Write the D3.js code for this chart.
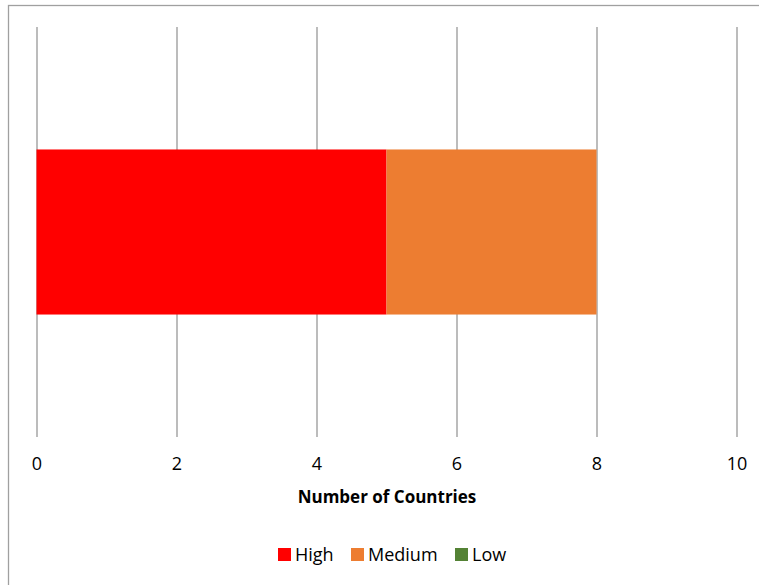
<!DOCTYPE html>
<html><head><meta charset="utf-8">
<script src="https://cdn.jsdelivr.net/npm/d3@7"></script>
<style>body{margin:0;background:#fff}svg{display:block}text{font-family:"Open Sans",sans-serif}</style>
</head><body>
<svg id="c" width="759" height="585"></svg>
<script>
const categories = ["Countries"];
const seriesNames = ["High","Medium","Low"];
const seriesColors = ["#ff0000","#ed7d31","#548235"];
const high = [5];
const medium = [3];
const low = [0];
const tickValues = [0,2,4,6,8,10];
const axisTitle = "Number of Countries";
const FONT = "'Open Sans',sans-serif";

const svg = d3.select("#c");
svg.append("rect").attr("x",8.5).attr("y",5.5).attr("width",760).attr("height",590)
  .attr("fill","none").attr("stroke","#a0a0a0").attr("stroke-width",1.3);

const x = d3.scaleLinear().domain([0,10]).range([36.5,736.5]);
const y = d3.scaleBand().domain(categories).range([27,437]).paddingInner(0).paddingOuter(0.742);

// grid
const grid = svg.append("g").attr("transform","translate(0,437)")
  .call(d3.axisBottom(x).tickValues(tickValues).tickSize(-410).tickFormat(""));
grid.select(".domain").remove();
grid.selectAll("line").attr("stroke","#989898").attr("stroke-width",1.3);

const data = categories.map((c,i)=>({cat:c, High:high[i], Medium:medium[i], Low:low[i]}));
const stack = d3.stack().keys(seriesNames)(data);
svg.append("g").selectAll("g").data(stack).join("g")
  .attr("fill",(d,i)=>seriesColors[i])
  .selectAll("rect").data(d=>d).join("rect")
  .attr("x",d=>x(d[0])).attr("width",d=>x(d[1])-x(d[0]))
  .attr("y",d=>y(d.data.cat)).attr("height",y.bandwidth());

// tick labels
const ax = svg.append("g").attr("transform","translate(0,437)")
  .call(d3.axisBottom(x).tickValues(tickValues).tickSize(0).tickPadding(20));
ax.select(".domain").remove();
ax.selectAll("text").attr("font-size",18).attr("fill","#000").attr("font-family",FONT);

svg.append("text").attr("x",387).attr("y",503).attr("text-anchor","middle")
  .attr("font-size",17).attr("font-weight","bold").attr("fill","#000").text(axisTitle);

// legend
const legX = [278,351,455];
const lg = svg.append("g");
seriesNames.forEach((n,i)=>{
  lg.append("rect").attr("x",legX[i]).attr("y",548).attr("width",13).attr("height",13).attr("fill",seriesColors[i]);
  lg.append("text").attr("x",legX[i]+17).attr("y",561).attr("font-size",18).attr("fill","#000").text(n);
});
</script>
</body></html>
